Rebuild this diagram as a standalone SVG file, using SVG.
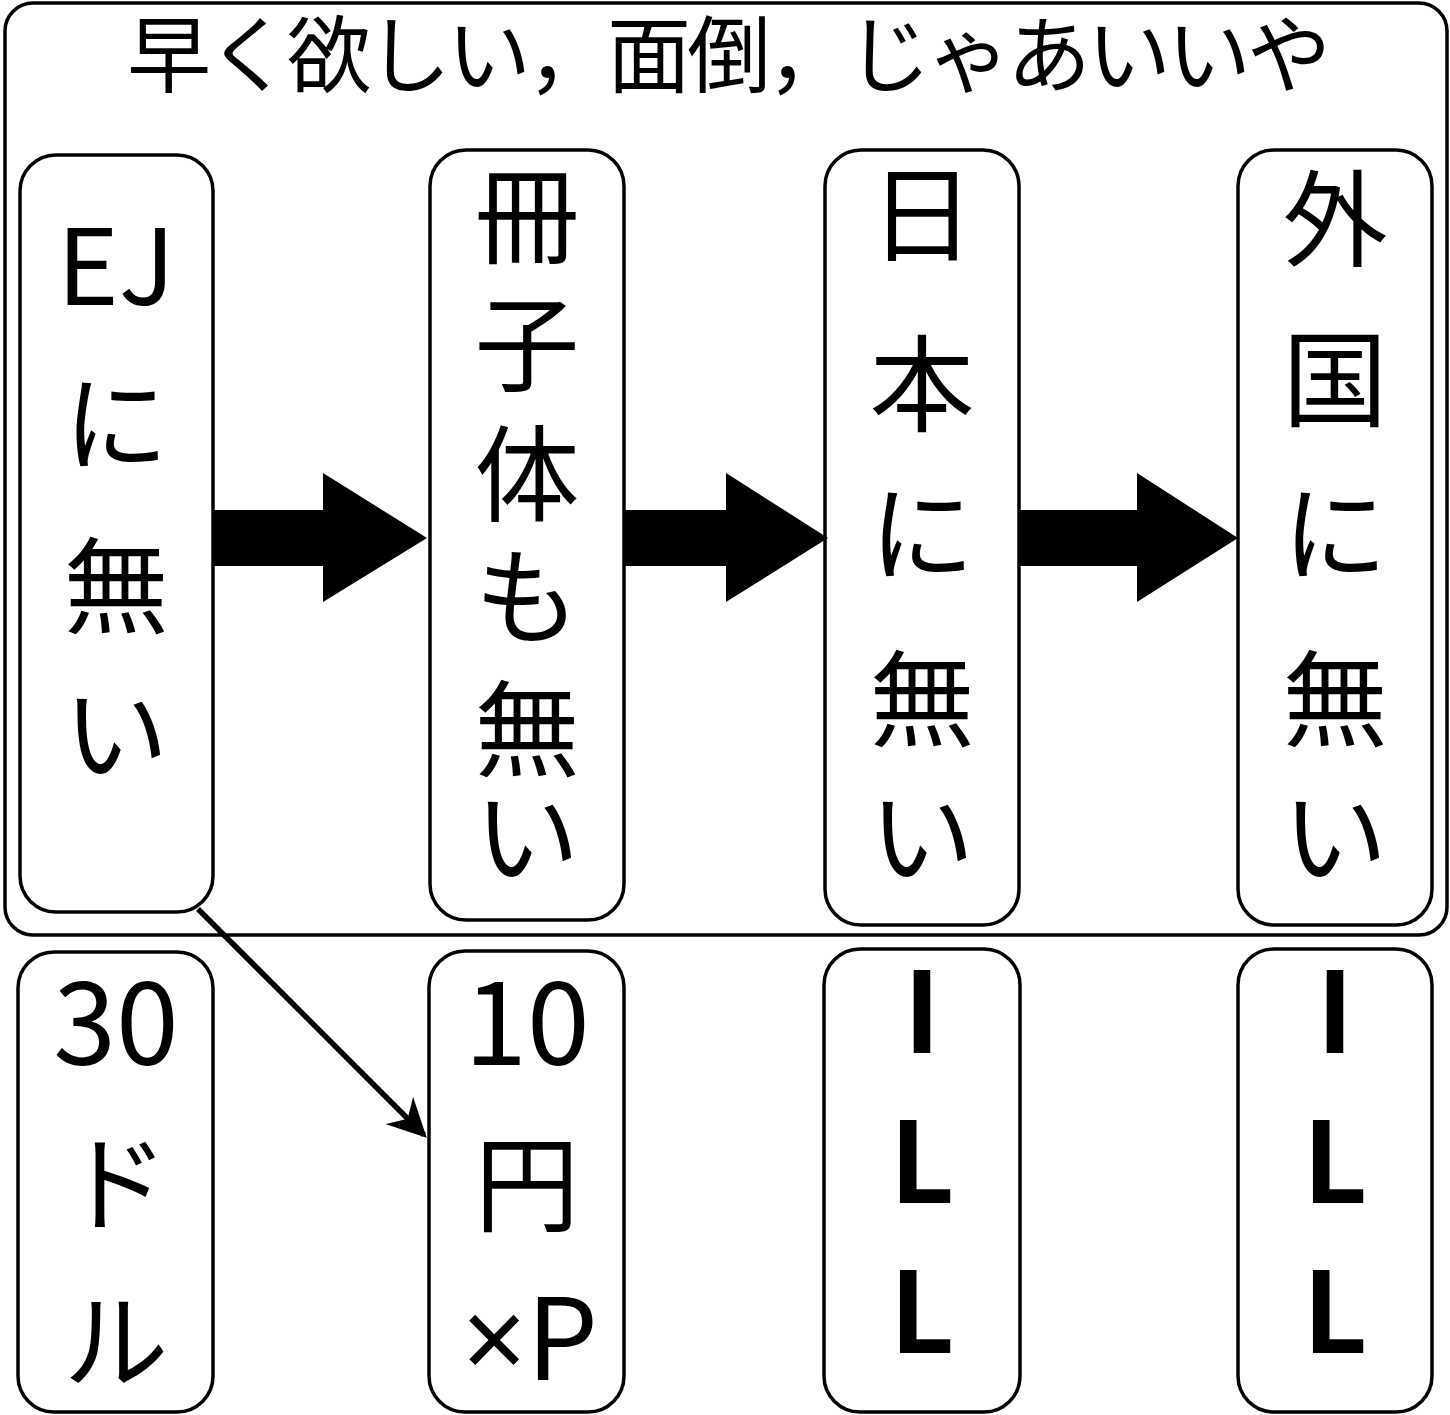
<svg xmlns="http://www.w3.org/2000/svg" width="1450" height="1415" viewBox="0 0 1450 1415">
<style>
.box{fill:#fff;stroke:#000;stroke-width:3.5}
.t{font-family:"Noto Sans CJK JP","Noto Sans",sans-serif;font-size:105px;fill:#000;text-anchor:middle}
.d{font-size:113px}
.b{font-family:"Noto Sans CJK JP","Noto Sans",sans-serif;font-size:112px;font-weight:bold;fill:#000;text-anchor:middle}
.title{font-family:"Noto Sans CJK JP","Noto Sans",sans-serif;font-size:84px;letter-spacing:-4px;fill:#000;text-anchor:middle}
.lat{font-family:"Noto Sans",sans-serif}
</style>
<defs>
<marker id="ah" viewBox="0 0 10 10" refX="9" refY="5" markerWidth="7" markerHeight="7" orient="auto" markerUnits="strokeWidth">
<path d="M0,0 L10,5 L0,10 L3,5 Z" fill="#000"/>
</marker>
</defs>
<rect width="1450" height="1415" fill="#fff"/>
<g id="container">
<rect class="box" x="5" y="3" width="1442" height="932" rx="28"/>
<text class="title" x="727" y="86">早く欲しい，面倒，じゃあいいや</text>
</g>
<g id="n1">
<rect class="box" x="20" y="155" width="193" height="757" rx="36"/>
<text class="t"><tspan x="116" y="305">EJ</tspan><tspan x="116" y="462">に</tspan><tspan x="116" y="625">無</tspan><tspan x="116" y="772">い</tspan></text>
</g>
<g id="n2">
<rect class="box" x="430" y="150" width="194" height="770" rx="36"/>
<text class="t"><tspan x="527" y="255">冊</tspan><tspan x="527" y="383">子</tspan><tspan x="527" y="513">体</tspan><tspan x="527" y="635">も</tspan><tspan x="527" y="768">無</tspan><tspan x="527" y="875">い</tspan></text>
</g>
<g id="n3">
<rect class="box" x="825" y="150" width="194" height="775" rx="36"/>
<text class="t"><tspan x="922" y="253">日</tspan><tspan x="922" y="423">本</tspan><tspan x="922" y="572">に</tspan><tspan x="922" y="738">無</tspan><tspan x="922" y="875">い</tspan></text>
</g>
<g id="n4">
<rect class="box" x="1238" y="150" width="194" height="775" rx="36"/>
<text class="t"><tspan x="1335" y="258">外</tspan><tspan x="1335" y="418">国</tspan><tspan x="1335" y="572">に</tspan><tspan x="1335" y="738">無</tspan><tspan x="1335" y="875">い</tspan></text>
</g>
<g id="n5">
<rect class="box" x="18" y="952" width="195" height="460" rx="36"/>
<text class="t"><tspan class="d" x="116" y="1065">30</tspan><tspan x="116" y="1222">ド</tspan><tspan x="116" y="1380">ル</tspan></text>
</g>
<g id="n6">
<rect class="box" x="429" y="951" width="195" height="461" rx="36"/>
<text class="t"><tspan class="d" x="527" y="1065">10</tspan><tspan x="527" y="1223">円</tspan><tspan class="d" x="530" y="1380"><tspan class="lat">×</tspan>P</tspan></text>
</g>
<g id="n7">
<rect class="box" x="824" y="949" width="196" height="463" rx="36"/>
<text class="b"><tspan x="922" y="1053">I</tspan><tspan x="922" y="1203">L</tspan><tspan x="922" y="1353">L</tspan></text>
</g>
<g id="n8">
<rect class="box" x="1238" y="949" width="194" height="463" rx="36"/>
<text class="b"><tspan x="1335" y="1053">I</tspan><tspan x="1335" y="1203">L</tspan><tspan x="1335" y="1353">L</tspan></text>
</g>
<g id="connectors">
<path d="M213,510 H323 V473 L427,538 L323,602 V566 H213 Z" fill="#000"/>
<path d="M624,510 H726 V473 L828,538 L726,602 V566 H624 Z" fill="#000"/>
<path d="M1019,510 H1137 V473 L1238,538 L1137,602 V566 H1019 Z" fill="#000"/>
<line x1="198" y1="909" x2="424" y2="1135" stroke="#000" stroke-width="5.5" marker-end="url(#ah)"/>
</g>
</svg>
